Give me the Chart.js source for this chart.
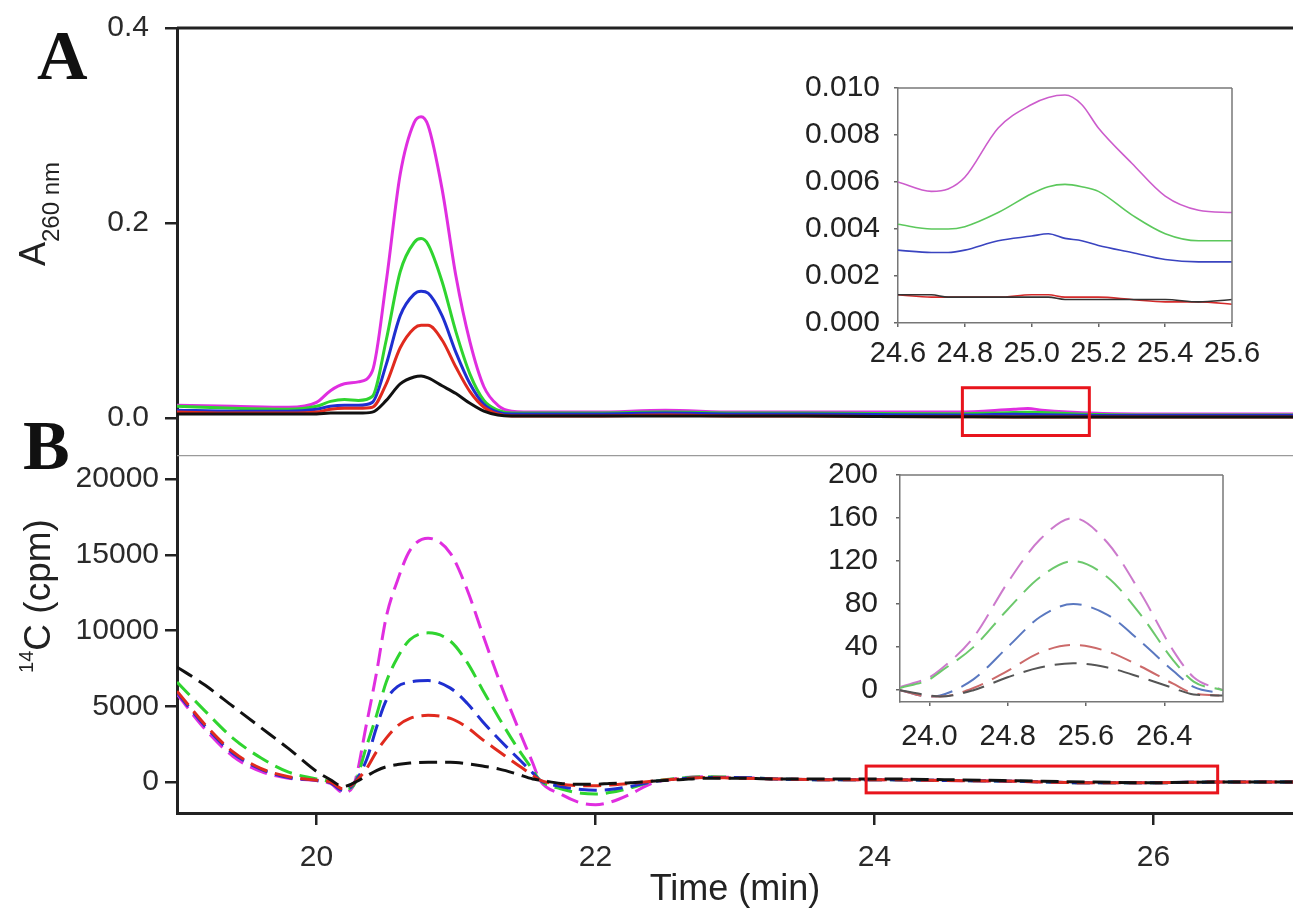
<!DOCTYPE html>
<html lang="en">
<head>
<meta charset="UTF-8">
<title>A260 and 14C elution profiles</title>
<script src="https://cdn.jsdelivr.net/npm/chart.js"></script>
<style>
  body { margin: 0; background: #fff; }
  #wrap { position: relative; width: 1293px; height: 909px; overflow: hidden; background: #fff; }
  canvas { position: absolute; }
  .lbl { position: absolute; white-space: nowrap; line-height: 1; color: #222;
         font-family: "Liberation Sans", Arial, sans-serif; }
  .panel { position: absolute; line-height: 1; font-family: "Liberation Serif", "Times New Roman", serif;
           font-weight: bold; font-size: 70px; color: #111; }
</style>
</head>
<body>
<div id="wrap">
  <canvas id="chartA" width="1293" height="456" style="left:0;top:0"></canvas>
  <canvas id="chartB" width="1293" height="454" style="left:0;top:455px"></canvas>
  <canvas id="insetA" width="513" height="320" style="left:780px;top:60px"></canvas>
  <canvas id="insetB" width="513" height="300" style="left:780px;top:460px"></canvas>

  <div class="panel" style="left:37px;top:21px">A</div>
  <div class="panel" style="left:23px;top:411px">B</div>
  <div class="lbl" style="left:33px;top:214px;font-size:36px;transform:translate(-50%,-50%) rotate(-90deg)">A<span style="font-size:24px;position:relative;top:14px">260 nm</span></div>
  <div class="lbl" style="left:37px;top:596px;font-size:37px;transform:translate(-50%,-50%) rotate(-90deg)"><span style="font-size:20px;position:relative;top:-17px">14</span>C (cpm)</div>
</div>

<script>
// ---- panel A : absorbance at 260 nm ----
const tA = [19.0, 19.4, 19.8, 20.0, 20.1, 20.2, 20.3, 20.4, 20.5, 20.6, 20.7, 20.75, 20.8, 20.9, 21.0, 21.1, 21.2, 21.3, 21.4, 21.6, 22.0, 22.5, 23.0, 23.5, 24.0, 24.6, 25.0, 25.1, 25.2, 25.6, 26.0, 26.5, 27.0];
const magentaA = [0.013, 0.012, 0.011, 0.016, 0.028, 0.035, 0.037, 0.048, 0.14, 0.25, 0.303, 0.309, 0.300, 0.235, 0.145, 0.078, 0.032, 0.013, 0.007, 0.006, 0.006, 0.008, 0.006, 0.006, 0.006, 0.006, 0.009, 0.0097, 0.008, 0.0047, 0.004, 0.004, 0.004];
const greenA = [0.012, 0.010, 0.009, 0.012, 0.017, 0.019, 0.018, 0.022, 0.08, 0.15, 0.180, 0.184, 0.178, 0.14, 0.088, 0.045, 0.018, 0.008, 0.005, 0.005, 0.005, 0.006, 0.005, 0.005, 0.0045, 0.0042, 0.0055, 0.0059, 0.0056, 0.0035, 0.003, 0.003, 0.003];
const blueA = [0.008, 0.007, 0.007, 0.009, 0.012, 0.013, 0.013, 0.016, 0.055, 0.105, 0.127, 0.130, 0.128, 0.105, 0.067, 0.035, 0.014, 0.006, 0.004, 0.004, 0.004, 0.005, 0.004, 0.004, 0.0035, 0.0031, 0.0037, 0.0036, 0.0033, 0.0026, 0.0025, 0.0025, 0.0025];
const redA = [0.006, 0.005, 0.005, 0.006, 0.009, 0.010, 0.010, 0.011, 0.035, 0.072, 0.092, 0.095, 0.095, 0.080, 0.052, 0.027, 0.011, 0.004, 0.002, 0.002, 0.002, 0.003, 0.002, 0.002, 0.0015, 0.0012, 0.0011, 0.0011, 0.0011, 0.0009, 0.001, 0.001, 0.001];
const blackA = [0.004, 0.004, 0.004, 0.004, 0.005, 0.005, 0.005, 0.006, 0.018, 0.035, 0.042, 0.043, 0.041, 0.033, 0.025, 0.015, 0.007, 0.003, 0.002, 0.002, 0.002, 0.002, 0.002, 0.002, 0.0015, 0.0012, 0.0011, 0.0011, 0.0011, 0.001, 0.001, 0.001, 0.001];
const yTicksA = [0, 0.2, 0.4];

// ---- panel B : 14C counts ----
const tB = [19.0, 19.2, 19.4, 19.6, 19.8, 20.0, 20.1, 20.19, 20.26, 20.36, 20.43, 20.5, 20.58, 20.67, 20.8, 20.96, 21.08, 21.19, 21.31, 21.43, 21.55, 21.6, 21.75, 21.9, 22.0, 22.1, 22.25, 22.4, 22.6, 22.8, 23.0, 23.3, 23.6, 24.0, 24.5, 25.0, 25.5, 26.0, 26.5, 27.0];
const magentaB = [5800, 3500, 1700, 700, 250, 100, -100, -700, -330, 3900, 7200, 10900, 13300, 15300, 16100, 15100, 12700, 9800, 6700, 3900, 1250, 130, -800, -1400, -1500, -1350, -800, -100, 250, 350, 300, 200, 150, 150, 100, 50, -50, -50, 0, 0];
const greenB = [6600, 4700, 2900, 1600, 650, 200, 0, -500, -300, 2400, 4400, 6600, 8200, 9400, 9850, 9300, 7900, 6100, 4200, 2400, 800, 130, -450, -750, -800, -700, -400, 0, 250, 350, 300, 200, 150, 150, 100, 50, -50, -50, 0, 0];
const blueB = [5900, 3700, 1900, 850, 300, 100, -50, -550, -200, 1500, 3600, 5400, 6300, 6600, 6700, 6200, 5200, 4000, 2800, 1700, 600, 130, -300, -500, -550, -500, -300, 0, 200, 300, 300, 200, 150, 150, 100, 50, -50, -50, 0, 0];
const redB = [6000, 3800, 2000, 900, 350, 120, 0, -450, -150, 900, 2000, 2900, 3700, 4200, 4400, 4200, 3600, 2800, 2000, 1200, 450, 130, -150, -250, -250, -200, -100, 50, 200, 300, 250, 200, 150, 150, 100, 50, -50, -50, 0, 0];
const blackB = [7600, 6400, 5000, 3600, 2200, 700, 150, -300, -100, 400, 750, 1000, 1150, 1250, 1300, 1300, 1200, 1050, 850, 550, 200, 130, -100, -150, -150, -100, -50, 50, 150, 250, 250, 200, 200, 200, 150, 80, 0, -50, 0, 0];
const yTicksB = [0, 5000, 10000, 15000, 20000];
const xTicks = [20, 22, 24, 26];

// ---- inset of A (24.6 - 25.6 min) ----
const tIA = [24.6, 24.7, 24.75, 24.8, 24.9, 25.0, 25.05, 25.1, 25.15, 25.2, 25.3, 25.4, 25.5, 25.6];
const magentaIA = [0.0060, 0.0056, 0.0057, 0.0062, 0.0083, 0.0093, 0.0096, 0.0097, 0.0093, 0.0083, 0.0068, 0.0054, 0.0048, 0.0047];
const greenIA = [0.0042, 0.0040, 0.0040, 0.0041, 0.0047, 0.0055, 0.0058, 0.0059, 0.0058, 0.0056, 0.0046, 0.0038, 0.0035, 0.0035];
const blueIA = [0.0031, 0.0030, 0.0030, 0.0031, 0.0035, 0.0037, 0.0038, 0.0036, 0.0035, 0.0033, 0.0030, 0.0027, 0.0026, 0.0026];
const redIA = [0.0012, 0.0011, 0.0011, 0.0011, 0.0011, 0.0012, 0.0012, 0.0011, 0.0011, 0.0011, 0.0010, 0.0009, 0.0009, 0.0008];
const blackIA = [0.0012, 0.0012, 0.0011, 0.0011, 0.0011, 0.0011, 0.0011, 0.0010, 0.0010, 0.0010, 0.0010, 0.0010, 0.0009, 0.0010];
const xTicksIA = [24.6, 24.8, 25.0, 25.2, 25.4, 25.6];
const yTicksIA = [0, 0.002, 0.004, 0.006, 0.008, 0.010];

// ---- inset of B (24 - 26.4 min) ----
const tIB = [23.7, 24.0, 24.11, 24.45, 24.8, 25.13, 25.47, 25.82, 26.16, 26.49, 26.7, 27.0];
const magentaIB = [3, 12, 19, 49, 100, 140, 160, 137, 90, 37, 12, 0];
const greenIB = [2, 10, 17, 40, 75, 105, 120, 105, 70, 28, 8, 0];
const blueIB = [0, -6, -5, 10, 40, 68, 80, 70, 45, 18, 3, -3];
const redIB = [0, -6, -6, 2, 18, 35, 42, 36, 22, 6, -3, -5];
const blackIB = [0, -5, -6, 0, 12, 21, 25, 21, 12, 2, -4, -5];
const xTicksIB = [24.0, 24.8, 25.6, 26.4];
const yTicksIB = [0, 40, 80, 120, 160, 200];

// zoomed regions marked in the main panels: [xmin, xmax, ymin, ymax]
const zoomBoxA = [24.63, 25.54, -0.018, 0.031];
const zoomBoxB = [23.94, 26.46, -720, 1050];

const FONT = '"Liberation Sans", Arial, sans-serif';

function pts(xs, ys) { return xs.map((x, i) => ({ x: x, y: ys[i] })); }

function series(xs, list, colors, width, dash) {
  return list.map((ys, i) => ({
    data: pts(xs, ys),
    borderColor: colors[i],
    borderWidth: width,
    borderDash: dash || [],
    pointRadius: 0,
    cubicInterpolationMode: 'monotone',
    fill: false
  }));
}

function fixTicks(list) {
  return function (scale) { scale.ticks = list.map(v => ({ value: v })); };
}

// fixed axis size, and no extra room for half labels at the ends
function fitTo(prop, size) {
  return function (s) {
    s[prop] = size;
    s.paddingTop = 0; s.paddingBottom = 0; s.paddingLeft = 0; s.paddingRight = 0;
  };
}

// draws the extra box sides and the red zoom rectangle
const framePlugin = {
  id: 'frame',
  afterDatasetsDraw(chart, args, opts) {
    const { ctx, chartArea: a, scales } = chart;
    ctx.save();
    (opts.lines || []).forEach(l => {
      ctx.strokeStyle = l.color;
      ctx.lineWidth = l.width;
      ctx.beginPath();
      if (l.side === 'top') { ctx.moveTo(a.left, a.top); ctx.lineTo(a.right, a.top); }
      if (l.side === 'right') { ctx.moveTo(a.right, a.top); ctx.lineTo(a.right, a.bottom); }
      ctx.stroke();
    });
    if (opts.box) {
      const b = opts.box;
      const x0 = scales.x.getPixelForValue(b[0]), x1 = scales.x.getPixelForValue(b[1]);
      const y0 = scales.y.getPixelForValue(b[2]), y1 = scales.y.getPixelForValue(b[3]);
      ctx.strokeStyle = '#e8141c';
      ctx.lineWidth = 3;
      ctx.strokeRect(x0, y1, x1 - x0, y0 - y1);
    }
    ctx.restore();
  }
};
Chart.register(framePlugin);

const base = {
  responsive: false,
  animation: false,
  events: [],
  plugins: { legend: { display: false }, tooltip: { enabled: false } }
};

function mainY(min, max, ticks, pad, fmt) {
  return {
    type: 'linear', min: min, max: max,
    afterBuildTicks: fixTicks(ticks),
    afterFit: fitTo('width', 177),
    border: { display: true, color: '#222', width: 3 },
    grid: { drawOnChartArea: false, drawTicks: true, tickLength: 12, color: '#222', lineWidth: 2.5 },
    ticks: { padding: pad, color: '#2a2a2a', font: { family: FONT, size: 30 }, callback: fmt }
  };
}

// panel A
new Chart(document.getElementById('chartA'), {
  type: 'line',
  data: { datasets: series(tA, [blackA, redA, blueA, greenA, magentaA], ['#111', '#e02a1e', '#1f2fd0', '#2fd42f', '#e02ee0'], 3) },
  options: Object.assign({}, base, {
    layout: { padding: { top: 28, right: 0, bottom: 1, left: 0 } },
    scales: {
      x: { type: 'linear', min: 19, max: 27, display: false },
      y: mainY(-0.038, 0.4, yTicksA, 16, v => v.toFixed(1))
    },
    plugins: Object.assign({}, base.plugins, {
      frame: { lines: [{ side: 'top', color: '#222', width: 3 }], box: zoomBoxA }
    })
  })
});

// panel B
new Chart(document.getElementById('chartB'), {
  type: 'line',
  data: { datasets: series(tB, [blackB, redB, blueB, greenB, magentaB], ['#111', '#e02a1e', '#1f2fd0', '#2fd42f', '#e02ee0'], 3, [18, 8]) },
  options: Object.assign({}, base, {
    layout: { padding: 0 },
    scales: {
      x: {
        type: 'linear', min: 19, max: 27,
        afterBuildTicks: fixTicks(xTicks),
        afterFit: fitTo('height', 96),
        border: { display: true, color: '#222', width: 3 },
        grid: { drawOnChartArea: false, drawTicks: true, tickLength: 12, color: '#222', lineWidth: 2.5 },
        ticks: { padding: 15, color: '#2a2a2a', font: { family: FONT, size: 30 }, maxRotation: 0 },
        title: { display: true, text: 'Time (min)', color: '#222', font: { family: FONT, size: 36 }, padding: { top: 0, bottom: -3 } }
      },
      y: mainY(-2050, 21600, yTicksB, 6, v => String(v))
    },
    plugins: Object.assign({}, base.plugins, {
      frame: { lines: [{ side: 'top', color: '#9a9a9a', width: 2.5 }], box: zoomBoxB }
    })
  })
});

function insetScales(xmin, xmax, ymin, ymax, xt, yt, yw, xh, ypad, xpad, xfmt, yfmt) {
  const grid = { drawOnChartArea: false, drawTicks: true, tickLength: 4, color: '#666', lineWidth: 1.5 };
  const border = { display: true, color: '#777', width: 1.5 };
  return {
    x: {
      type: 'linear', min: xmin, max: xmax,
      afterBuildTicks: fixTicks(xt),
      afterFit: fitTo('height', xh),
      border: border, grid: grid,
      ticks: { padding: xpad, color: '#222', font: { family: FONT, size: 29 }, maxRotation: 0, autoSkip: false, callback: xfmt }
    },
    y: {
      type: 'linear', min: ymin, max: ymax,
      afterBuildTicks: fixTicks(yt),
      afterFit: fitTo('width', yw),
      border: border, grid: grid,
      ticks: { padding: ypad, color: '#222', font: { family: FONT, size: 30 }, callback: yfmt }
    }
  };
}

// inset A
new Chart(document.getElementById('insetA'), {
  type: 'line',
  data: { datasets: series(tIA, [blackIA, redIA, blueIA, greenIA, magentaIA], ['#333', '#d42a2a', '#3a44c0', '#5cc85c', '#cc5ccc'], 1.6) },
  options: Object.assign({}, base, {
    layout: { padding: { top: 28, right: 61, bottom: 0, left: 0 } },
    scales: insetScales(24.6, 25.6, 0, 0.010, xTicksIA, yTicksIA, 118, 57, 14, 10, v => v.toFixed(1), v => v.toFixed(3)),
    plugins: Object.assign({}, base.plugins, {
      frame: { lines: [{ side: 'top', color: '#777', width: 1.5 }, { side: 'right', color: '#777', width: 1.5 }] }
    })
  })
});

// inset B
new Chart(document.getElementById('insetB'), {
  type: 'line',
  data: { datasets: series(tIB, [blackIB, redIB, blueIB, greenIB, magentaIB], ['#555', '#cc6a6a', '#5a78c0', '#6cc86c', '#cc7acc'], 2, [22, 10]) },
  options: Object.assign({}, base, {
    layout: { padding: { top: 15, right: 70, bottom: 0, left: 0 } },
    scales: insetScales(23.7, 27.0, -11, 200, xTicksIB, yTicksIB, 120, 58, 18, 14, v => v.toFixed(1), v => String(v)),
    plugins: Object.assign({}, base.plugins, {
      frame: { lines: [{ side: 'top', color: '#777', width: 1.5 }, { side: 'right', color: '#777', width: 1.5 }] }
    })
  })
});
</script>
</body>
</html>
